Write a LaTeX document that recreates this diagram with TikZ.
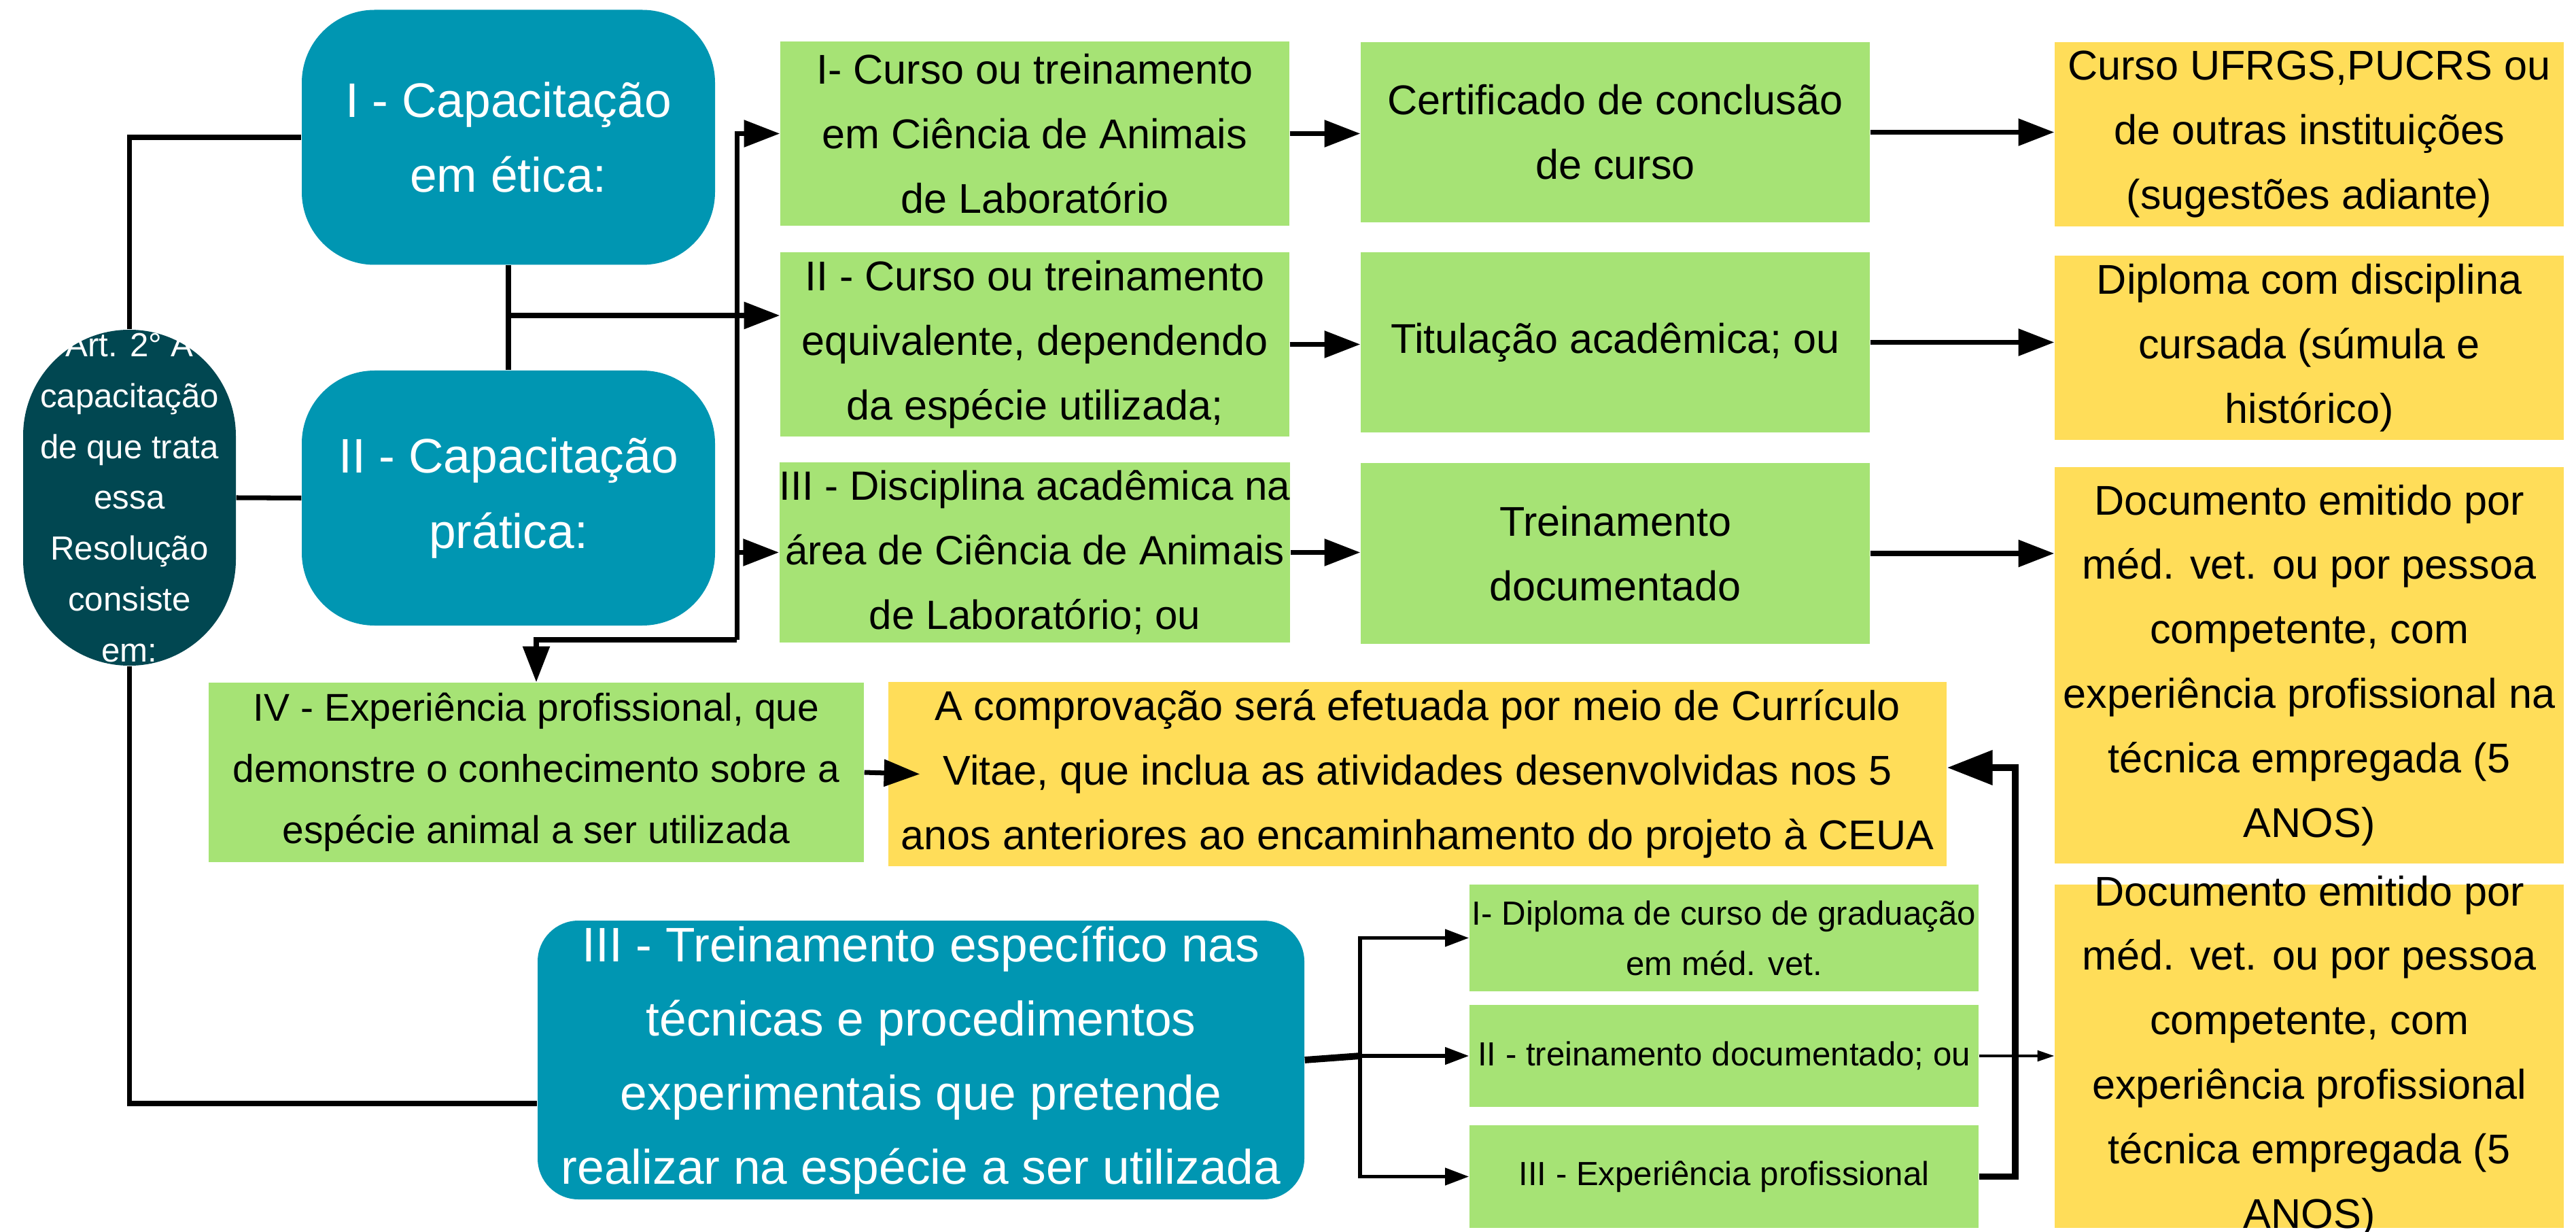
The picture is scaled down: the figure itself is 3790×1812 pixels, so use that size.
\documentclass[tikz,border=0pt]{standalone}
\usepackage{fontspec}
\setmainfont{Liberation Sans}
\usetikzlibrary{arrows.meta}
\definecolor{tealcol}{RGB}{0,150,178}
\definecolor{darkcol}{RGB}{1,71,81}
\definecolor{greencol}{RGB}{166,227,117}
\definecolor{yellowcol}{RGB}{255,221,89}
\begin{document}
\begin{tikzpicture}[x=0.1mm, y=-0.1mm,
    capbox/.style={rectangle, rounded corners=10.7mm, fill=tealcol, text=white, inner sep=0pt,
      font=\fontsize{20.3}{31.5}\selectfont, align=center, minimum width=60.8mm, minimum height=37.5mm},
    artbox/.style={rectangle, rounded corners=15.6mm, fill=darkcol, minimum width=31.3mm, minimum height=49.4mm},
    arttext/.style={text=white, font=\fontsize{14}{21.3}\selectfont, align=center, inner sep=0pt},
    reqbox/.style={rectangle, fill=greencol, inner sep=0pt, font=\fontsize{17.4}{27}\selectfont,
      align=center, minimum width=74.9mm, minimum height=27.1mm},
    docbox/.style={reqbox, fill=yellowcol},
    optbox/.style={reqbox, font=\fontsize{14}{21}\selectfont},
    line/.style={line width=2pt},
    arr/.style={line, -{Triangle[length=15pt,width=11pt]}},
    smallarr/.style={line width=1.6pt, -{Triangle[length=10pt,width=7pt]}},
    tinyarr/.style={line width=0.9pt, -{Triangle[length=7pt,width=4.5pt]}},
    bigarr/.style={line width=2.8pt, -{Triangle[length=19pt,width=14pt]}}]
  \useasboundingbox (0,0) rectangle (3790,1812);
  % place nodes
  \node[artbox] (art) at (190.5,732) {};
  \node[arttext] (artText) at (art) {Art. 2° A\\capacitação\\de que trata\\essa\\Resolução\\consiste\\em:};
  \node[capbox] (capI) at (748,202) {I - Capacitação\\em ética:};
  \node[capbox] (capII) at (748,732.5) {II - Capacitação\\prática:};
  \node[capbox, rounded corners=6mm, minimum width=112.8mm, minimum height=41mm,
    font=\fontsize{20.3}{31}\selectfont] (capIII) at (1355,1559)
    {III - Treinamento específico nas\\técnicas e procedimentos\\experimentais que pretende\\realizar na espécie a ser utilizada};
  \node[reqbox] (g1) at (1522.5,196.5) {I- Curso ou treinamento\\em Ciência de Animais\\de Laboratório};
  \node[reqbox] (g2) at (1522.5,506.5) {II - Curso ou treinamento\\equivalente, dependendo\\da espécie utilizada;};
  \node[reqbox, minimum height=26.5mm, font=\fontsize{17.1}{27}\selectfont] (g3) at (1522.5,812.5) {III - Disciplina acadêmica na\\área de Ciência de Animais\\de Laboratório; ou};
  \node[reqbox, minimum height=26.5mm] (c1) at (2376.5,194.5) {Certificado de conclusão\\de curso};
  \node[reqbox, minimum height=26.5mm] (c2) at (2376.5,503.5) {Titulação acadêmica; ou};
  \node[reqbox, minimum height=26.6mm] (c3) at (2376.5,814) {Treinamento\\documentado};
  \node[docbox] (y1) at (3397.5,197.5) {Curso UFRGS,PUCRS ou\\de outras instituições\\(sugestões adiante)};
  \node[docbox] (y2) at (3397.5,511.5) {Diploma com disciplina\\cursada (súmula e\\histórico)};
  \node[docbox, minimum height=58.3mm] (y3) at (3397.5,978.5) {Documento emitido por\\méd. vet. ou por pessoa\\competente, com\\experiência profissional na\\técnica empregada (5\\ANOS)};
  \node[docbox, minimum height=50.5mm] (y4) at (3397.5,1553.5) {};
  \node[docbox, fill=none, minimum height=0pt] (y4Text) at (y4) {Documento emitido por\\méd. vet. ou por pessoa\\competente, com\\experiência profissional\\técnica empregada (5\\ANOS)};
  \node[reqbox, minimum width=96.4mm, minimum height=26.4mm, font=\fontsize{16.2}{25.6}\selectfont] (iv) at (789,1136)
    {IV - Experiência profissional, que\\demonstre o conhecimento sobre a\\espécie animal a ser utilizada};
  \node[docbox, minimum width=155.7mm] (ceua) at (2085.5,1138.5)
    {A comprovação será efetuada por meio de Currículo\\Vitae, que inclua as atividades desenvolvidas nos 5\\anos anteriores ao encaminhamento do projeto à CEUA};
  \node[optbox, minimum height=15.7mm] (sa) at (2536.5,1379.5) {I- Diploma de curso de graduação\\em méd. vet.};
  \node[optbox, minimum height=15mm] (sb) at (2536.5,1553) {II - treinamento documentado; ou};
  \node[optbox, minimum height=15.1mm] (sc) at (2536.5,1730.5) {III - Experiência profissional};
  % draw edges
  \draw[line] (art.north) |- (capI.west);
  \draw[line] (art.east) -- (capII.west);
  \draw[line] (art.south) |- ([yshift=-6.4mm]capIII.west);
  \draw[line] (capI.south) -- (capII.north);
  \coordinate (split) at (748,464);
  \coordinate (bus) at (1084,464);
  \coordinate (busEnd) at (1084,941);
  \draw[arr] (split) -- (split -| g2.west);
  \draw[arr] (busEnd) |- (g1.west);
  \draw[arr] (bus |- g3.west) -- (g3.west);
  \draw[arr] (busEnd) -| (iv.north);
  \draw[arr] (g1.east) -- (g1.east -| c1.west);
  \draw[arr] (g2.east) -- (g2.east -| c2.west);
  \draw[arr] (g3.east) -- (g3.east -| c3.west);
  \draw[arr] (c1.east) -- (c1.east -| y1.west);
  \draw[arr] (c2.east) -- (c2.east -| y2.west);
  \draw[arr] (c3.east) -- (c3.east -| y3.west);
  \draw[arr] (iv.east) -- ([xshift=4.7mm]ceua.west);
  \coordinate (fork) at (2001,1553);
  \draw[line width=2.8pt] (capIII.east) -- (fork);
  \draw[smallarr] (fork) |- (sa.west);
  \draw[smallarr] (fork) -- (sb.west);
  \draw[smallarr] (fork) |- (sc.west);
  \draw[tinyarr] (sb.east) -- (sb.east -| y4.west);
  \coordinate (back) at (2965,1129);
  \draw[bigarr] (sc.east) -| (back) -- (back -| ceua.east);
\end{tikzpicture}
\end{document}
